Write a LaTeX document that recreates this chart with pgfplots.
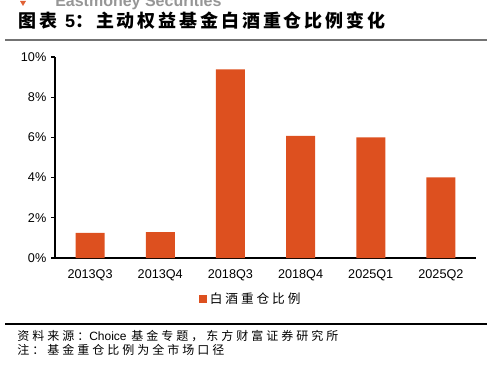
\documentclass[border=0pt]{standalone}
\usepackage{fontspec}
\setmainfont{Liberation Sans}
\newfontfamily\cjk{Noto Sans CJK SC}
\newfontfamily\cjksp{Noto Sans CJK SC}[LetterSpace=25]
\newfontfamily\cjklg{Noto Sans CJK SC}[LetterSpace=23]
\newfontfamily\cjktitle{Noto Sans CJK SC}[LetterSpace=16]
\usepackage{pgfplots}
\pgfplotsset{compat=1.18}
\definecolor{barcol}{RGB}{221,80,31}
\definecolor{topgray}{RGB}{150,150,150}
\begin{document}
\begin{tikzpicture}[x=0.75pt,y=-0.75pt]
\path[use as bounding box] (0,0) rectangle (492,367);
% header
\node[anchor=base west,text=topgray,font=\fontsize{12}{14}\selectfont\bfseries,inner sep=0] at (55,7) {Eastmoney Securities};
\fill[barcol!90] (20,1) -- (26,1) -- (23,6) -- cycle;
\node[anchor=west,inner sep=0,font=\fontsize{13.5}{16}\selectfont\bfseries] at (18,21) {\cjktitle 图表\hspace{6pt}{\fontspec{Liberation Sans}5}\cjktitle：主动权益基金白酒重仓比例变化};
\draw[line width=1.5pt,black!55] (5,40) -- (487,40);
% footer
\draw[line width=0.8pt,black] (5,324) -- (487,324);
\node[anchor=west,inner sep=0,font=\fontsize{9}{11}\selectfont] at (17,336) {\cjksp 资料来源：\rmfamily Choice\hspace{3.5pt}\cjksp 基金专题，东方财富证券研究所};
\node[anchor=west,inner sep=0,font=\fontsize{9}{11}\selectfont] at (17,350) {\cjksp 注：基金重仓比例为全市场口径};
\begin{axis}[
  at={(41.25pt,-193.5pt)}, anchor=south west,
  scale only axis, width=315.75pt, height=150.75pt,
  xmin=-0.5, xmax=5.5, ymin=0, ymax=10,
  axis x line=bottom, axis y line=left,
  axis line style={-, line width=0.9pt, black},
  xtick=data,
  xticklabels={2013Q3,2013Q4,2018Q3,2018Q4,2025Q1,2025Q2},
  x tick style={draw=none},
  ytick={0,2,4,6,8,10},
  yticklabels={0\%,2\%,4\%,6\%,8\%,10\%},
  y tick style={black, line width=0.8pt},
  tick align=outside, major tick length=3pt,
  tick label style={font=\fontsize{9.5}{11}\selectfont},
  xticklabel style={yshift=-2pt},
  bar width=21.75pt,
  legend style={at={(0.466,-0.204)}, anchor=center, draw=none, fill=none,
    font=\fontsize{9.5}{11}\selectfont, inner sep=0pt,
    legend cell align=left},
  legend image code/.code={\fill[barcol] (0pt,-3pt) rectangle (6pt,3pt);},
]
\addplot[ybar, fill=barcol, draw=none] coordinates {
(0,1.25) (1,1.29) (2,9.39) (3,6.07) (4,6.00) (5,4.01)};
\addlegendentry{\cjklg 白酒重仓比例}
\end{axis}
\end{tikzpicture}
\end{document}
